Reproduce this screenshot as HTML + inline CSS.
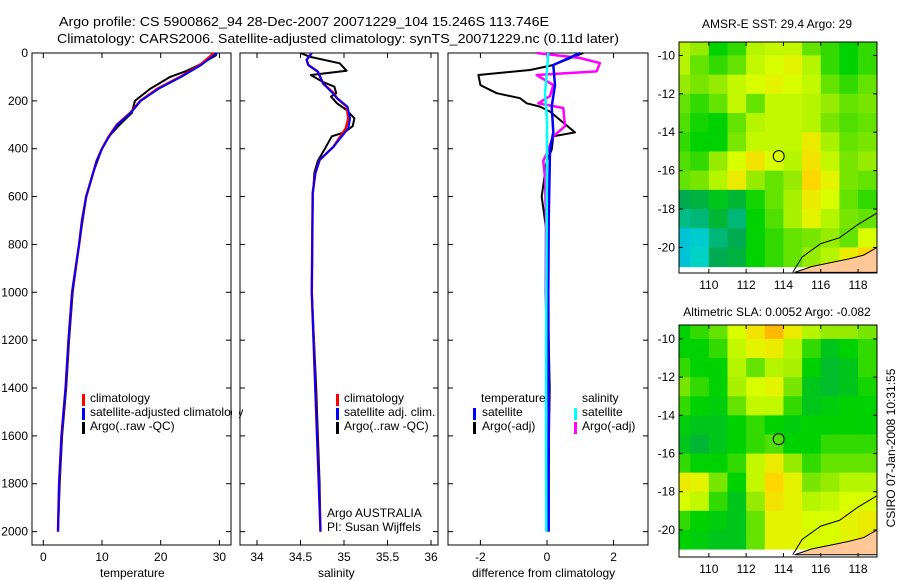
<!DOCTYPE html>
<html><head><meta charset="utf-8"><style>
html,body{margin:0;padding:0;background:#fff;}
svg{display:block;font-family:"Liberation Sans",sans-serif;}
</style></head><body>
<svg id="fig" width="900" height="580" xmlns="http://www.w3.org/2000/svg">
<text x="59" y="26" font-size="13" textLength="490" lengthAdjust="spacingAndGlyphs">Argo profile: CS 5900862_94 28-Dec-2007 20071229_104 15.246S 113.746E</text>
<text x="57" y="43" font-size="13" textLength="562" lengthAdjust="spacingAndGlyphs">Climatology: CARS2006. Satellite-adjusted climatology: synTS_20071229.nc (0.11d later)</text>
<text x="777" y="28" font-size="12" text-anchor="middle">AMSR-E SST: 29.4 Argo: 29</text>
<text x="777" y="316" font-size="12" text-anchor="middle">Altimetric SLA: 0.0052 Argo: -0.082</text>
<text transform="translate(895,448) rotate(-90)" font-size="12" text-anchor="middle">CSIRO 07-Jan-2008 10:31:55</text>
<g id="plots"></g>
</svg>
<script>
// ---------- data ----------
const climDepth = [0,50,100,150,200,250,300,350,400,450,500,600,700,800,900,1000,1200,1400,1600,1800,2000];
const climTemp  = [29.1,26.7,23.3,19.4,16.5,14.8,12.5,11.1,10.0,9.1,8.5,7.3,6.6,6.1,5.5,4.9,4.3,3.8,3.1,2.7,2.5];
const satTemp   = [29.6,26.9,23.5,19.6,16.6,14.9,12.6,11.2,10.0,9.1,8.5,7.3,6.6,6.1,5.5,4.9,4.3,3.8,3.1,2.7,2.5];
const argoTDepth = [0,10,50,75,100,150,200,250,300,350,400,500,600,800,1000,1200,1400,1600,1800,2000];
const argoTemp   = [29.5,29.4,26.5,24.4,21.6,18.2,15.6,15.1,13.0,11.1,10.0,8.5,7.3,6.1,5.0,4.4,3.9,3.2,2.8,2.5];

const salDepth = [0,29,50,78,127,168,189,224,273,315,391,447,503,586,1003,1400,1800,2000];
const climSal  = [34.63,34.57,34.59,34.70,34.76,34.88,34.92,35.03,35.05,35.02,34.88,34.72,34.67,34.64,34.63,34.67,34.71,34.73];
const satSal   = [34.63,34.57,34.59,34.70,34.76,34.87,34.92,35.04,35.07,35.05,34.88,34.72,34.67,34.64,34.63,34.67,34.71,34.73];
const argoSDepth = [0,15,43,74,92,120,141,168,182,210,238,273,306,332,348,400,450,500,600,1000,1400,1800,2000];
const argoSal    = [34.50,34.60,34.95,35.03,34.62,34.75,34.89,34.91,34.85,34.92,35.03,35.12,35.10,35.00,34.86,34.78,34.70,34.66,34.64,34.63,34.68,34.72,34.73];

const dTDepth = [0,50,71,92,134,168,189,210,224,245,332,348,404,450,600,753,1000,1400,1600,2000];
const dTArgo  = [1.09,0.19,-0.51,-2.06,-2.0,-1.51,-0.81,-0.61,-0.21,0.09,0.84,0.19,0.14,-0.01,-0.16,-0.01,0.02,0.08,0.06,0.03];
const dSDepth = [0,21,42,77,92,134,180,210,230,306,348,420,450,520,700,1000,1500,2000];
const dSArgo  = [-0.31,0.99,1.59,1.49,-0.31,0.19,0.09,-0.26,0.49,0.54,0.19,-0.01,-0.11,-0.06,-0.03,-0.04,0.05,0.02];
const dTsDepth = [0,50,134,224,330,404,700,1000,1500,2000];
const dTSat    = [0.99,0.19,0.24,0.14,0.19,0.09,0.05,0.04,0.05,0.05];
const dSsDepth = [0,92,168,280,700,1000,1500,2000];
const dSSat    = [0.04,-0.01,-0.06,0.0,-0.01,-0.02,-0.03,-0.02];

const sstGrid = [
[0.70,0.65,0.50,0.55,0.70,0.72,0.72,0.60,0.55,0.50,0.55],
[0.70,0.60,0.55,0.60,0.72,0.75,0.78,0.70,0.55,0.50,0.55],
[0.65,0.62,0.65,0.72,0.75,0.78,0.75,0.72,0.60,0.55,0.60],
[0.60,0.55,0.60,0.72,0.60,0.72,0.72,0.70,0.65,0.60,0.62],
[0.58,0.52,0.50,0.60,0.70,0.72,0.72,0.70,0.62,0.58,0.60],
[0.55,0.50,0.50,0.62,0.72,0.72,0.72,0.80,0.68,0.60,0.62],
[0.58,0.55,0.65,0.75,0.82,0.75,0.70,0.82,0.72,0.62,0.65],
[0.60,0.62,0.70,0.80,0.65,0.60,0.65,0.85,0.78,0.62,0.60],
[0.35,0.38,0.45,0.40,0.52,0.60,0.68,0.80,0.75,0.60,0.55],
[0.28,0.30,0.40,0.30,0.50,0.58,0.68,0.78,0.70,0.62,0.60],
[0.15,0.18,0.30,0.35,0.50,0.55,0.60,0.62,0.65,0.60,0.75],
[0.15,0.20,0.35,0.38,0.50,0.55,0.60,0.65,0.70,0.80,0.85]];
const slaGrid = [
[0.50,0.55,0.60,0.75,0.82,0.92,0.80,0.70,0.65,0.65,0.62],
[0.50,0.50,0.55,0.72,0.78,0.80,0.70,0.55,0.45,0.50,0.55],
[0.55,0.50,0.50,0.70,0.60,0.70,0.68,0.50,0.42,0.45,0.55],
[0.62,0.55,0.50,0.68,0.75,0.78,0.62,0.45,0.42,0.45,0.52],
[0.55,0.50,0.48,0.60,0.72,0.72,0.55,0.45,0.48,0.50,0.50],
[0.48,0.45,0.45,0.50,0.55,0.50,0.48,0.50,0.50,0.50,0.50],
[0.45,0.40,0.45,0.50,0.55,0.58,0.50,0.50,0.55,0.55,0.55],
[0.55,0.50,0.50,0.55,0.72,0.80,0.65,0.55,0.60,0.60,0.60],
[0.80,0.78,0.62,0.50,0.72,0.85,0.78,0.62,0.65,0.70,0.70],
[0.75,0.72,0.55,0.45,0.65,0.82,0.78,0.70,0.72,0.75,0.75],
[0.55,0.50,0.48,0.45,0.60,0.78,0.78,0.75,0.75,0.78,0.80],
[0.50,0.48,0.45,0.45,0.60,0.78,0.78,0.75,0.75,0.78,0.80]];
const gridLon0 = 108, gridLat0 = -9;
const coastLon = [114.5,115.0,116.0,117.0,118.0,119.2];
const coastLat = [-21.3,-20.5,-19.8,-19.5,-18.8,-18.1];
const landLon = [114.6,115.5,116.5,117.5,118.3,119.2,119.2];
const landLat = [-21.3,-21.0,-20.8,-20.6,-20.4,-19.9,-21.3];
const floatLon = 113.746, floatLat = -15.246;
const tempTicks = [0,10,20,30];
const salTicks = [34,34.5,35,35.5,36];
const diffTicks = [-2,0,2];
const depthTicks = [0,200,400,600,800,1000,1200,1400,1600,1800,2000];
const lonTicks = [110,112,114,116,118];
const latTicks = [-10,-12,-14,-16,-18,-20];

// ---------- helpers ----------
const NS = "http://www.w3.org/2000/svg";
const root = document.getElementById('plots');
function mk(tag, attrs, parent){ const e=document.createElementNS(NS,tag); for(const k in attrs) e.setAttribute(k,attrs[k]); (parent||root).appendChild(e); return e; }
const PT=53, PB=545;
const yD = d => PT + d*0.2393;

function frame(x0,x1,name,xticks,xs,yticks,ys,yLabels,y0,y1){
  const g=mk('g',{});
  
  
  mk('rect',{x:x0,y:y0,width:x1-x0,height:y1-y0,fill:'none',stroke:'#000','stroke-width':1},g);
  xticks.forEach(t=>{ const x=xs(t);
    mk('line',{x1:x,x2:x,y1:y1,y2:y1-5,stroke:'#000'},g);
    mk('line',{x1:x,x2:x,y1:y0,y2:y0+5,stroke:'#000'},g);
    const tx=mk('text',{x:x,y:y1+16,'font-size':12,'text-anchor':'middle'},g); tx.textContent=t;
    
    
  });
  yticks.forEach(t=>{ const y=ys(t);
    mk('line',{x1:x0,x2:x0+5,y1:y,y2:y,stroke:'#000'},g);
    mk('line',{x1:x1,x2:x1-5,y1:y,y2:y,stroke:'#000'},g);
    if(yLabels){ const tx=mk('text',{x:x0-4,y:y+4,'font-size':12,'text-anchor':'end'},g); tx.textContent=t;
      
       }
  });
  return g;
}
function line(depths, vals, xs, color, w, name){
  const pts=depths.map((d,i)=>xs(vals[i]).toFixed(1)+','+yD(d).toFixed(1)).join(' ');
  const p=mk('polyline',{points:pts,fill:'none',stroke:color,'stroke-width':w,'stroke-linejoin':'round'});
  
  
}
function label(x,y,txt,name,size){ const t=mk('text',{x:x,y:y,'font-size':size||12}); t.textContent=txt;
  
   }
function legMark(x,y,c){ const r=mk('rect',{x:x,y:y-10,width:3,height:12,fill:c});
  
   }

// ---------- temperature panel ----------
const xT = v => 43.3 + v*5.87;
frame(32,231,'temperature-panel',tempTicks,xT,depthTicks,yD,true,PT,PB);
line(argoTDepth,argoTemp,xT,'#000',2,'argo-temperature-line');
line(climDepth,climTemp,xT,'#f00',2.5,'clim-temperature-line');
line(climDepth,satTemp,xT,'#00f',2,'sat-temperature-line');
label(100,577,'temperature','x-axis-title-temperature');
legMark(82,404,'#f00'); label(90,402,'climatology','legend-climatology');
legMark(82,418,'#00f'); label(90,416,'satellite-adjusted climatology','legend-satellite');
legMark(82,432,'#000'); label(90,430,'Argo(..raw -QC)','legend-argo');
mk('rect',{x:232,y:380,width:7,height:60,fill:'#fff'});

// ---------- salinity panel ----------
const xS = v => 257 + (v-34)*87;
frame(240,438,'salinity-panel',salTicks,xS,depthTicks,yD,false,PT,PB);
line(argoSDepth,argoSal,xS,'#000',2,'argo-salinity-line');
line(salDepth,climSal,xS,'#f00',2.5,'clim-salinity-line');
line(salDepth,satSal,xS,'#00f',2,'sat-salinity-line');
label(318,577,'salinity','x-axis-title-salinity');
legMark(336,404,'#f00'); label(344,402,'climatology','legend-climatology-2');
legMark(336,418,'#00f'); label(344,416,'satellite adj. clim.','legend-satellite-2');
legMark(336,432,'#000'); label(344,430,'Argo(..raw -QC)','legend-argo-2');
label(327,517,'Argo AUSTRALIA','credit-line-1');
label(327,531,'PI: Susan Wijffels','credit-line-2');

// ---------- difference panel ----------
const xDf = v => 547 + v*33.3;
frame(448,648,'difference-panel',diffTicks,xDf,depthTicks,yD,false,PT,PB);
line(dTDepth,dTArgo,xDf,'#000',2,'diff-temp-argo-line');
line(dSDepth,dSArgo,xDf,'#f0f',2.5,'diff-sal-argo-line');
line(dTsDepth,dTSat,xDf,'#00f',2.5,'diff-temp-sat-line');
line(dSsDepth,dSSat,xDf,'#0ff',2.5,'diff-sal-sat-line');
label(472,577,'difference from climatology','x-axis-title-difference');
label(481,402,'temperature','legend-temp-header');
legMark(473,418,'#00f'); label(482,416,'satellite','legend-temp-sat');
legMark(473,432,'#000'); label(482,430,'Argo(-adj)','legend-temp-argo');
label(582,402,'salinity','legend-sal-header');
legMark(574,418,'#0ff'); label(582,416,'satellite','legend-sal-sat');
legMark(574,432,'#f0f'); label(582,430,'Argo(-adj)','legend-sal-argo');

// ---------- maps ----------
function cmap(v){
  const st=[[0,0,150,255],[0.2,0,210,200],[0.35,0,170,80],[0.5,0,210,0],[0.65,150,235,0],[0.75,215,255,0],[0.85,255,215,0],[1,255,150,0]];
  for(let i=1;i<st.length;i++){ if(v<=st[i][0]){ const a=st[i-1],b=st[i],f=(v-a[0])/(b[0]-a[0]);
    return 'rgb('+[1,2,3].map(k=>Math.round(a[k]+f*(b[k]-a[k]))).join(',')+')'; } }
  return 'rgb(255,150,0)';
}
function drawMap(name,grid,y0,y1,latTop,latPerPx){
  const x0=679,x1=877;
  const xL = lon => x0 + (lon-108.4)*18.65;
  const yL = lat => y0 + (latTop-lat)*latPerPx;
  const g=mk('g',{});
  
  
  const cp=mk('clipPath',{id:'clip'+name},g); mk('rect',{x:x0,y:y0,width:x1-x0,height:y1-y0},cp);
  const cg=mk('g',{'clip-path':'url(#clip'+name+')'},g);
  grid.forEach((row,r)=>row.forEach((v,c)=>{
    const xa=xL(gridLon0+c), ya=yL(gridLat0-r);
    const cell=mk('rect',{x:xa,y:ya,width:xL(gridLon0+c+1)-xa+0.5,height:yL(gridLat0-r-1)-ya+0.5,fill:cmap(v)},cg);
    
    
  }));
  const land=mk('polygon',{points:landLon.map((l,i)=>xL(l)+','+yL(landLat[i])).join(' '),fill:'#ffc896',stroke:'#000','stroke-width':1},cg);
  
  
  const cl=mk('polyline',{points:coastLon.map((l,i)=>xL(l)+','+yL(coastLat[i])).join(' '),fill:'none',stroke:'#000','stroke-width':1},cg);
  
  
  const fm=mk('circle',{cx:xL(floatLon),cy:yL(floatLat),r:5.5,fill:'none',stroke:'#000','stroke-width':1},g);
  
  
  mk('rect',{x:x0,y:y0,width:x1-x0,height:y1-y0,fill:'none',stroke:'#000'},g);
  lonTicks.forEach(t=>{ const x=xL(t); mk('line',{x1:x,x2:x,y1:y1,y2:y1-4,stroke:'#000'},g); mk('line',{x1:x,x2:x,y1:y0,y2:y0+4,stroke:'#000'},g);
    const tx=mk('text',{x:x,y:y1+16,'font-size':12,'text-anchor':'middle'},g); tx.textContent=t;
    
     });
  latTicks.forEach(t=>{ const y=yL(t); mk('line',{x1:x0,x2:x0+4,y1:y,y2:y,stroke:'#000'},g); mk('line',{x1:x1,x2:x1-4,y1:y,y2:y,stroke:'#000'},g);
    const tx=mk('text',{x:x0-4,y:y+4,'font-size':12,'text-anchor':'end'},g); tx.textContent=t;
    
     });
}
drawMap('sst-map',sstGrid,42,273,-9.3,19.2);
drawMap('sla-map',slaGrid,325,557,-9.27,19.1);
</script>
</body></html>
